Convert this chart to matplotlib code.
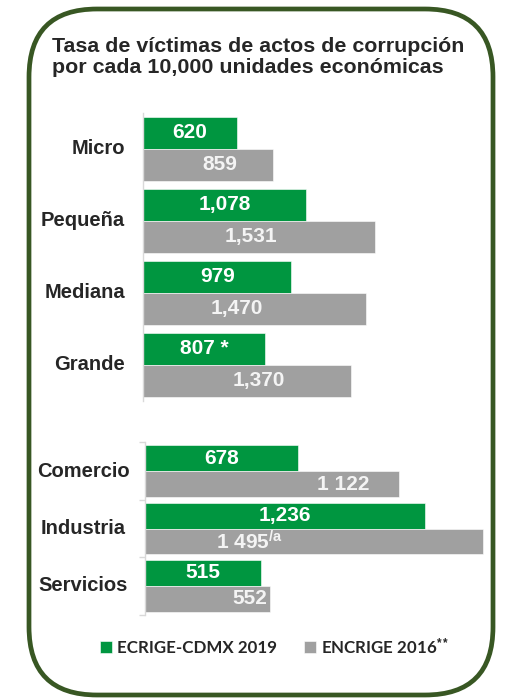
import matplotlib.pyplot as plt
from matplotlib.patches import FancyBboxPatch

plt.rcParams['font.family'] = ['Liberation Sans', 'DejaVu Sans']
plt.rcParams['mathtext.fontset'] = 'custom'
plt.rcParams['mathtext.rm'] = 'Liberation Sans:bold'
plt.rcParams['mathtext.it'] = 'Liberation Sans:bold:italic'
plt.rcParams['mathtext.bf'] = 'Liberation Sans:bold'

# tamaño de empresa
sizes = ['Micro', 'Pequeña', 'Mediana', 'Grande']
size_2019 = [620, 1078, 979, 807]
size_2016 = [859, 1531, 1470, 1370]
size_notes_2019 = ['', '', '', ' *']

# sector
sectors = ['Comercio', 'Industria', 'Servicios']
sector_2019 = [678, 1236, 515]
sector_2016 = [1122, 1495, 552]
sector_notes_2016 = ['', r'$^{\mathrm{/a}}$', '']

series_names = ['ECRIGE-CDMX 2019', r'ENCRIGE 2016$^{\mathrm{**}}$']

GREEN = '#009640'
GRAY = '#a0a0a0'
DARK = '#262626'
AXIS = '#d9d9d9'

# where the gray labels sit along their bar (fraction of bar length)
size_gray_at = [0.59, 0.465, 0.42, 0.56]
sector_gray_at = [0.78, 0.31, 0.84]

W, H = 505, 700
fig = plt.figure(figsize=(W / 100, H / 100), dpi=100)


def px_axes(left, top, right, bottom):
    return fig.add_axes([left / W, 1 - bottom / H, (right - left) / W, (bottom - top) / H])


# rounded frame
bg = px_axes(0, 0, W, H)
bg.set_xlim(0, W)
bg.set_ylim(H, 0)
bg.axis('off')
bg.add_patch(FancyBboxPatch((29, 9), 464, 686, boxstyle='round,pad=0,rounding_size=68',
                            fill=False, edgecolor='#385723', linewidth=3.4))

fig.text(52 / W, 1 - 37 / H, 'Tasa de víctimas de actos de corrupción\npor cada 10,000 unidades económicas',
         fontsize=15.4, fontweight='bold', color=DARK, va='top', ha='left', linespacing=1.15)


def draw_panel(ax, cats, v19, v16, lab19, lab16, gray_at, h):
    y = list(range(len(cats)))
    b19 = ax.barh([i - h / 2 for i in y], v19, height=h, color=GREEN, edgecolor='white', linewidth=0.4)
    b16 = ax.barh([i + h / 2 for i in y], v16, height=h, color=GRAY, edgecolor='white', linewidth=0.4)
    for i in y:
        ax.text(v19[i] / 2, i - h / 2, lab19[i], ha='center', va='center',
                color='white', fontsize=15, fontweight='bold')
        ax.text(v16[i] * gray_at[i], i + h / 2, lab16[i], ha='center', va='center',
                color='#f4f4f4', fontsize=15, fontweight='bold')
    ax.set_ylim(len(cats) - 0.5, -0.5)
    ax.set_xticks([])
    for s in ['top', 'right', 'bottom']:
        ax.spines[s].set_visible(False)
    ax.spines['left'].set_color(AXIS)
    ax.spines['left'].set_linewidth(1)
    return b19, b16


def category_labels(ax, cats, x, ha):
    for i, c in enumerate(cats):
        ax.annotate(c, xy=(x / W, i), xycoords=('figure fraction', 'data'),
                    ha=ha, va='center', fontsize=14.5, fontweight='bold', color=DARK)


ax1 = px_axes(143, 112.7, 463, 400.7)
ax1.set_xlim(0, 320 / 0.1516)
bars = draw_panel(ax1, sizes, size_2019, size_2016,
                  [f'{v:,}{n}' for v, n in zip(size_2019, size_notes_2019)],
                  [f'{v:,}' for v in size_2016], size_gray_at, 0.444)
ax1.set_yticks([])
category_labels(ax1, sizes, 125, 'right')

ax2 = px_axes(144.7, 442.3, 490, 614.7)
ax2.set_xlim(0, (490 - 144.7) / 0.2265)
draw_panel(ax2, sectors, sector_2019, sector_2016,
           [f'{v:,}' for v in sector_2019],
           [f'{v:,}'.replace(',', ' ') + n for v, n in zip(sector_2016, sector_notes_2016)],
           sector_gray_at, 0.452)
ax2.set_yticks([-0.5, 0.5, 1.5, 2.5])
ax2.set_yticklabels([])
ax2.tick_params(axis='y', direction='out', length=4, color=AXIS, width=1)
category_labels(ax2, sectors, 83, 'center')

leg = fig.legend(bars, series_names, loc='center left', bbox_to_anchor=(100 / W, 1 - 646 / H),
                 ncol=2, frameon=False, handlelength=0.7, handleheight=0.7,
                 handletextpad=0.3, columnspacing=1.6, borderpad=0, borderaxespad=0,
                 prop={'family': ['Lato', 'DejaVu Sans'], 'weight': 'bold', 'size': 12.2})
for t in leg.get_texts():
    t.set_color(DARK)

fig.savefig('out.png', dpi=100)
